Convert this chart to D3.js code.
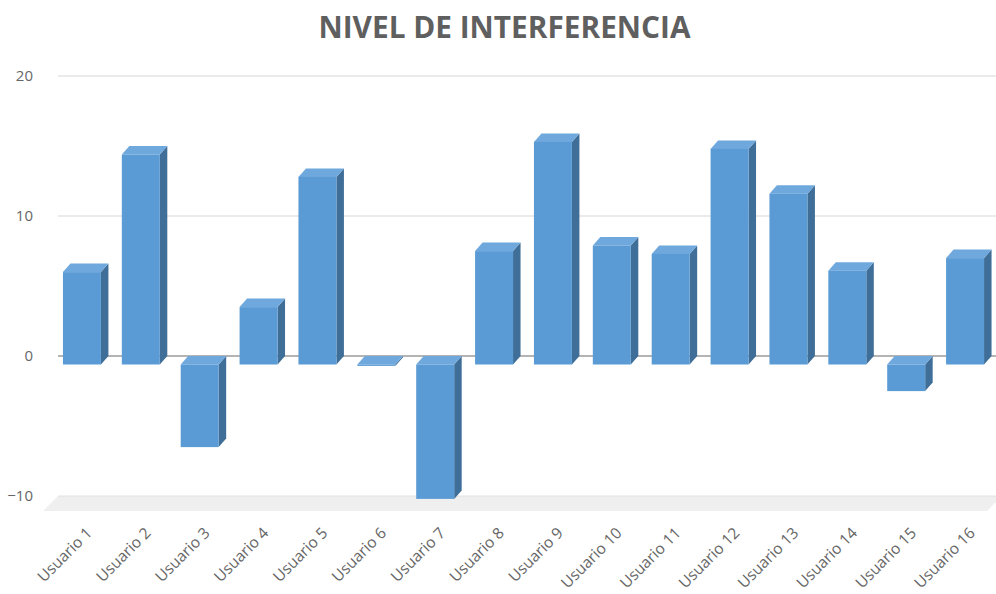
<!DOCTYPE html>
<html>
<head>
<meta charset="utf-8">
<script src="https://cdn.jsdelivr.net/npm/d3@7"></script>
<style>
  html, body { margin: 0; padding: 0; background: #ffffff; }
  svg { display: block; }
</style>
</head>
<body>
<svg id="chart" width="996" height="594"></svg>
<script>
const titleText = "NIVEL DE INTERFERENCIA";
const categories = ["Usuario 1", "Usuario 2", "Usuario 3", "Usuario 4", "Usuario 5", "Usuario 6", "Usuario 7", "Usuario 8",
                    "Usuario 9", "Usuario 10", "Usuario 11", "Usuario 12", "Usuario 13", "Usuario 14", "Usuario 15", "Usuario 16"];
const values = [6.6, 15.0, -5.9, 4.1, 13.4, -0.1, -9.6, 8.1, 15.9, 8.5, 7.9, 15.4, 12.2, 6.7, -1.9, 7.6];
const yTicks = [-10, 0, 10, 20];

const W = 996, H = 594;
const svg = d3.select("#chart");
const font = "'Open Sans', 'Noto Sans', sans-serif";

// back-wall scales
const y = d3.scaleLinear().domain([-10, 20]).range([496, 76]);
const x = d3.scaleBand().domain(categories).range([60, 1002]).paddingInner(0.355).paddingOuter(0.1775);

// 3D depth offsets
const bdx = 7.5, bdy = 8.5;   // bar depth (front face shifted left/down)
const fd = 15;               // floor depth

const wallLeft = 58, wallRight = 1002;

// floor
const yf = y(-10);
svg.append("polygon")
  .attr("points", [[wallLeft, yf], [wallRight, yf], [wallRight - fd, yf + fd], [wallLeft - fd, yf + fd]].map(p => p.join(",")).join(" "))
  .attr("fill", "#efefef");
svg.append("line")
  .attr("x1", wallLeft).attr("x2", wallRight).attr("y1", yf).attr("y2", yf)
  .attr("stroke", "#e2e2e2").attr("stroke-width", 1);

// gridlines
svg.append("g").selectAll("line")
  .data(yTicks.filter(t => t > 0))
  .join("line")
  .attr("x1", wallLeft).attr("x2", wallRight)
  .attr("y1", d => y(d)).attr("y2", d => y(d))
  .attr("stroke", "#e3e3e3").attr("stroke-width", 1.5);

// zero line
svg.append("line")
  .attr("x1", wallLeft).attr("x2", wallRight).attr("y1", y(0)).attr("y2", y(0))
  .attr("stroke", "#b4b4b4").attr("stroke-width", 2);

// y axis labels
const yAxis = d3.axisLeft(y).tickValues(yTicks).tickSize(0).tickPadding(25).tickFormat(d3.format("d"));
const yg = svg.append("g").attr("transform", `translate(${wallLeft},0)`).call(yAxis);
yg.select(".domain").remove();
yg.selectAll("text").attr("fill", "#666666").style("font-family", font).style("font-size", "15px");

// bars
const cFront = "#5b9bd5", cSide = "#3f6e98", cTop = "#6fa8dd";
const bars = svg.append("g").selectAll("g").data(values.map((v, i) => ({ v, c: categories[i] }))).join("g");
bars.each(function(d) {
  const g = d3.select(this);
  const x0 = x(d.c) - bdx, x1 = x0 + x.bandwidth();
  const yTopBack = y(Math.max(0, d.v)), yBotBack = y(Math.min(0, d.v));
  const yt = yTopBack + bdy, yb = yBotBack + bdy;
  // side face
  g.append("polygon")
    .attr("points", [[x1, yt], [x1 + bdx, yt - bdy], [x1 + bdx, yb - bdy], [x1, yb]].map(p => p.join(",")).join(" "))
    .attr("fill", cSide);
  // top face
  g.append("polygon")
    .attr("points", [[x0, yt], [x1, yt], [x1 + bdx, yt - bdy], [x0 + bdx, yt - bdy]].map(p => p.join(",")).join(" "))
    .attr("fill", cTop);
  // front face
  g.append("rect")
    .attr("x", x0).attr("y", yt).attr("width", x1 - x0).attr("height", Math.max(0, yb - yt))
    .attr("fill", cFront);
});

// x labels
svg.append("g").selectAll("text")
  .data(categories)
  .join("text")
  .attr("transform", d => `translate(${x(d) + x.bandwidth() / 2 - bdx + 11},${534}) rotate(-45)`)
  .attr("text-anchor", "end")
  .attr("fill", "#666666")
  .style("font-family", font)
  .style("font-size", "15.5px")
  .text(d => d);

// title
const title = svg.append("text")
  .attr("x", 504.5).attr("y", 38)
  .attr("text-anchor", "middle")
  .attr("fill", "#5f5f5f")
  .style("font-family", font)
  .style("font-weight", "bold")
  .style("font-size", "22px")
  .text(titleText);
const tw = title.node().getComputedTextLength();
title.style("font-size", (22 * 372 / tw).toFixed(2) + "px");
</script>
</body>
</html>
